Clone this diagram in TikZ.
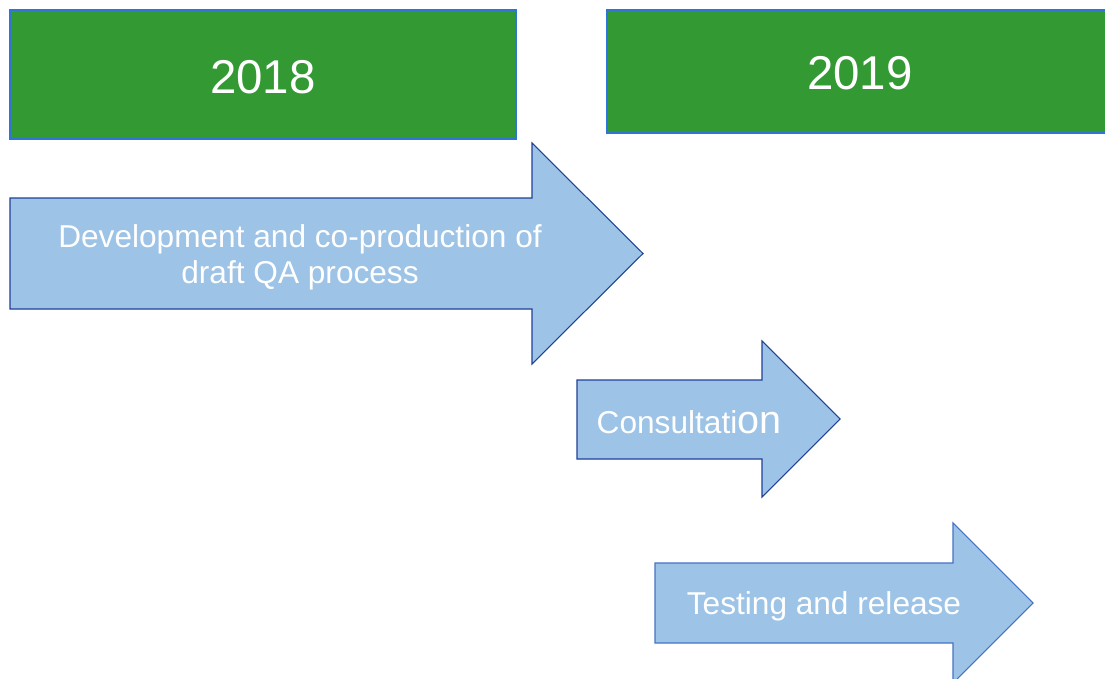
\documentclass[tikz,border=0pt]{standalone}
\usepackage{fontspec}
\setmainfont{Liberation Sans}
\usetikzlibrary{positioning}
\definecolor{yeargreen}{HTML}{339933}
\definecolor{yearedge}{HTML}{2E75D6}
\definecolor{arrowfill}{HTML}{9DC3E6}
\definecolor{arrowedge}{HTML}{203F9A}
\definecolor{arrowedgelight}{HTML}{4472C4}
\tikzset{
  yearbox/.style={draw=yearedge, fill=yeargreen, line width=0.6pt},
  yeartext/.style={white, font=\fontsize{27}{32}\selectfont},
  phase/.style={draw=arrowedge, fill=arrowfill, line width=0.6pt, line join=miter},
  phasetext/.style={white, font=\fontsize{18}{20.5}\selectfont, align=center}
}
\begin{document}
\begin{tikzpicture}[x=0.02cm, y=-0.02cm]
\clip (0,0) rectangle (1105,679);

%years
\draw[yearbox](10,10) rectangle (516,139);
\node[yeartext] (y2018) at (263,77) {2018};
\draw[yearbox](607,10) rectangle (1112,133);
\node[yeartext] (y2019) at (860,73) {2019};

%arrow #1
\draw[phase](10,198)--(532,198)--(532,143)--(643,253.5)--(532,364)--(532,309)--(10,309)--cycle;
\node[phasetext] (dev) at (300,257) {Development and co-production of\\draft QA process};
%arrow #2
\draw[phase](577,380)--(762,380)--(762,341)--(840,419)--(762,497)--(762,459)--(577,459)--cycle;
\node[phasetext] (cons) at (689,422) {Consultati{\fontsize{22.5}{20.5}\selectfont on}};
%arrow #3
\draw[phase,draw=arrowedgelight](655,563)--(953,563)--(953,523)--(1033,603)--(953,683)--(953,643)--(655,643)--cycle;
\node[phasetext] (test) at (824,606) {Testing and release};
\end{tikzpicture}
\end{document}
